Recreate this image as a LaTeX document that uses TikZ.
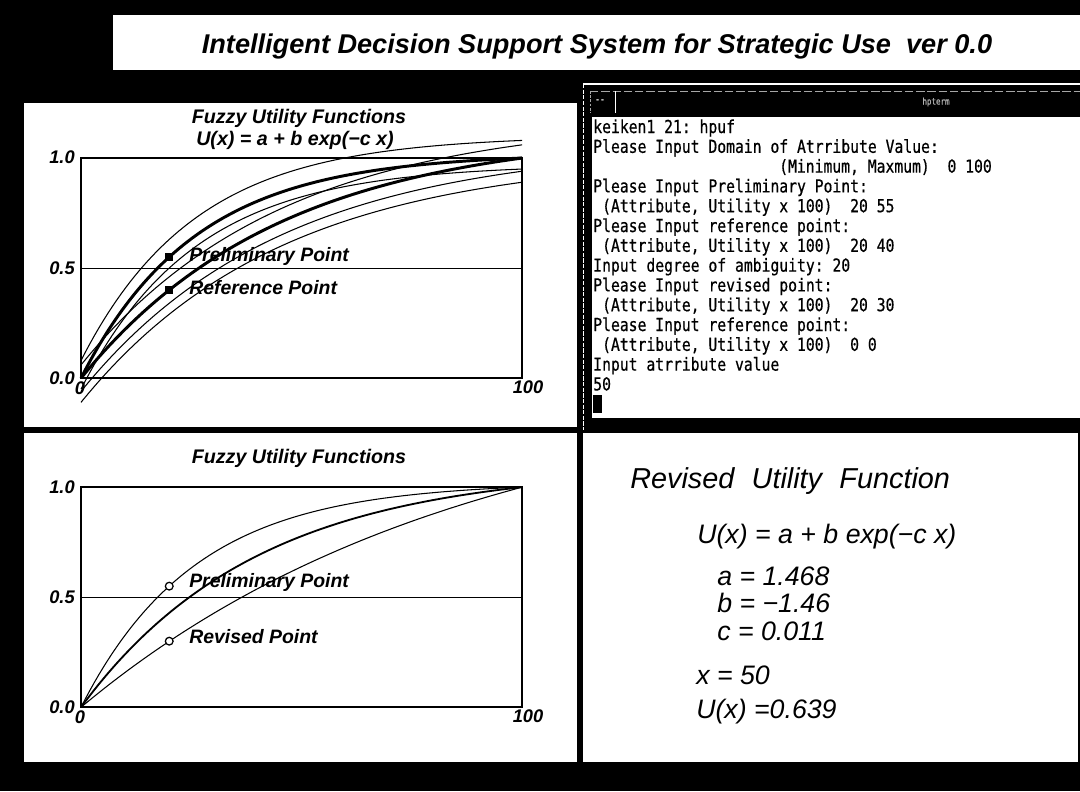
\documentclass[tikz,border=0pt]{standalone}
\usepackage{fontspec}
\setmainfont{Liberation Sans}
\newfontfamily\termfont[FakeStretch=0.824, FakeBold=0.6]{DejaVu Sans Mono}
\frenchspacing
\begin{document}
\begin{tikzpicture}[x=0.025cm, y=-0.025cm,
  frameline/.style={line width=1.4pt},
  midline/.style={line width=0.7pt},
  thincurve/.style={line width=0.75pt},
  thickcurve/.style={line width=2.1pt},
  heavycurve/.style={line width=1.3pt},
  ticklabel/.style={font=\fontsize{13}{13}\selectfont\bfseries\itshape, inner sep=0pt},
  plottitle/.style={font=\fontsize{14}{16}\selectfont\bfseries\itshape, inner sep=0pt},
  pointlabel/.style={font=\fontsize{13.8}{14}\selectfont\bfseries\itshape, inner sep=0pt, anchor=west},
  termline/.style={font=\termfont\fontsize{12.7}{14}\selectfont, inner sep=0pt, anchor=base west},
  resultline/.style={font=\fontsize{19}{20}\selectfont\itshape, inner sep=0pt, anchor=base west},
  solidmark/.style={rectangle, fill=black, minimum size=5.5pt, inner sep=0pt},
  openmark/.style={circle, draw=black, line width=0.9pt, minimum size=5.5pt, inner sep=0pt, fill=white},
]
% screen background and fixed page size
\fill[black] (0,0) rectangle (1080,791);
\useasboundingbox (0,0) rectangle (1080,791);

% title bar
\fill[white] (113,15) rectangle (1080,70);
\node[font=\fontsize{19.3}{22}\selectfont\bfseries\itshape, anchor=base, inner sep=0pt] (title) at (597,53)
  {Intelligent Decision Support System for Strategic Use\ \ ver 0.0};

% white panels
\fill[white] (24,103) rectangle (577,427);
\fill[white] (24,433) rectangle (577,762);
\fill[white] (583,433) rectangle (1078,762);

% ---------------- upper plot: fuzzy band ----------------
\node[plottitle] (ftitleA) at (299,118) {Fuzzy Utility Functions};
\node[plottitle] (formulaA) at (295,140) {U(x) = a + b exp(−c x)};
\begin{scope}[shift={(2.025cm,-9.45cm)}, x=0.11025cm, y=5.5cm]
  \draw[frameline] (0,0) rectangle (100,1);
  \draw[midline] (0,0.5) -- (100,0.5);
  % thin curves around the two estimates
  \draw[thincurve] plot[domain=0:100, samples=100] (\x, {0.08+1.0213*(1-exp(-0.0387*\x))});
  \draw[thincurve] plot[domain=0:100, samples=100] (\x, {-0.05+1.0213*(1-exp(-0.0387*\x))});
  \draw[thincurve] plot[domain=0:100, samples=100] (\x, {0.06+1.1246*(1-exp(-0.022*\x))});
  \draw[thincurve] plot[domain=0:100, samples=100] (\x, {-0.06+1.1246*(1-exp(-0.022*\x))});
  \draw[thincurve] plot[domain=0:100, samples=100] (\x, {-0.11+1.1246*(1-exp(-0.022*\x))});
  % the two estimates
  \draw[thickcurve] plot[domain=0:100, samples=100] (\x, {1.0213*(1-exp(-0.0387*\x))});
  \draw[thickcurve] plot[domain=0:100, samples=100] (\x, {1.1246*(1-exp(-0.022*\x))});
  \node[solidmark] (prelimA) at (20,0.55) {};
  \node[solidmark] (refA) at (20,0.40) {};
\end{scope}
\node[pointlabel] (prelimlabelA) at (189,256) {Preliminary Point};
\node[pointlabel] (reflabelA) at (189,288) {Reference Point};
\node[ticklabel, anchor=east] (oneA) at (75,157) {1.0};
\node[ticklabel, anchor=east] (halfA) at (75,268) {0.5};
\node[ticklabel, anchor=east] (zeroA) at (75,378) {0.0};
\node[ticklabel] (xzeroA) at (80,388) {0};
\node[ticklabel] (xmaxA) at (528,387) {100};

% ---------------- lower plot: revised function ----------------
\node[plottitle] (ftitleB) at (299,458) {Fuzzy Utility Functions};
\begin{scope}[shift={(2.025cm,-17.675cm)}, x=0.11025cm, y=5.5cm]
  \draw[frameline] (0,0) rectangle (100,1);
  \draw[midline] (0,0.5) -- (100,0.5);
  \draw[thincurve] plot[domain=0:100, samples=100] (\x, {1.0213*(1-exp(-0.0387*\x))});
  \draw[heavycurve] plot[domain=0:100, samples=100] (\x, {1.0894*(1-exp(-0.025*\x))});
  \draw[thincurve] plot[domain=0:100, samples=100] (\x, {1.4702*(1-exp(-0.0114*\x))});
  \node[openmark] (prelimB) at (20,0.55) {};
  \node[openmark] (revB) at (20,0.30) {};
\end{scope}
\node[pointlabel] (prelimlabelB) at (189,582) {Preliminary Point};
\node[pointlabel] (revlabelB) at (189,637) {Revised Point};
\node[ticklabel, anchor=east] (oneB) at (75,487) {1.0};
\node[ticklabel, anchor=east] (halfB) at (75,597) {0.5};
\node[ticklabel, anchor=east] (zeroB) at (75,707) {0.0};
\node[ticklabel] (xzeroB) at (80,717) {0};
\node[ticklabel] (xmaxB) at (528,716) {100};

% ---------------- terminal window ----------------
\draw[white, line width=0.8pt] (583,84) -- (1080,84);
\draw[white, line width=0.7pt, dash pattern=on 3pt off 1pt] (583,84) -- (583,430);
\draw[gray!70, line width=0.7pt, dash pattern=on 6pt off 2pt] (590,91) -- (1080,91);
\draw[gray!70, line width=0.6pt, dash pattern=on 2pt off 1pt] (590,91) -- (590,113);
\draw[white, line width=0.7pt] (615,91) -- (615,113);
\node[font=\termfont\fontsize{7}{7}\selectfont, text=white, inner sep=0pt] (winmenu) at (600,101) {--};
\node[font=\termfont\fontsize{6.5}{7}\selectfont, text=gray!60, inner sep=0pt] (wintitle) at (936,102) {hpterm};
\fill[white] (592,117) rectangle (1080,418);
\node[termline] (t0) at (593,133) {keiken1 21: hpuf};
\node[termline] (t1) at (593,152.8) {Please Input Domain of Atrribute Value:};
\node[termline] (t2) at (778.9,172.6) {(Minimum, Maxmum)~~0 100};
\node[termline] (t3) at (593,192.4) {Please Input Preliminary Point:};
\node[termline] (t4) at (601.85,212.2) {(Attribute, Utility x 100)~~20 55};
\node[termline] (t5) at (593,232) {Please Input reference point:};
\node[termline] (t6) at (601.85,251.8) {(Attribute, Utility x 100)~~20 40};
\node[termline] (t7) at (593,271.6) {Input degree of ambiguity: 20};
\node[termline] (t8) at (593,291.4) {Please Input revised point:};
\node[termline] (t9) at (601.85,311.2) {(Attribute, Utility x 100)~~20 30};
\node[termline] (t10) at (593,331) {Please Input reference point:};
\node[termline] (t11) at (601.85,350.8) {(Attribute, Utility x 100)~~0 0};
\node[termline] (t12) at (593,370.6) {Input atrribute value};
\node[termline] (t13) at (593,390.4) {50};
\fill[black] (593,395) rectangle (602,413);

% ---------------- result panel ----------------
\node[font=\fontsize{20.5}{22}\selectfont\itshape, anchor=base west, inner sep=0pt] (rtitle) at (630,488)
  {Revised\hspace{0.6em}Utility\hspace{0.6em}Function};
\node[resultline] (rform) at (697,543) {U(x) = a + b exp(−c x)};
\node[resultline] (ra) at (717,585) {a = 1.468};
\node[resultline] (rb) at (717,612) {b = −1.46};
\node[resultline] (rc) at (717,640) {c = 0.011};
\node[resultline] (rx) at (696,684) {x = 50};
\node[resultline] (ru) at (696,718) {U(x) =0.639};
\end{tikzpicture}
\end{document}
